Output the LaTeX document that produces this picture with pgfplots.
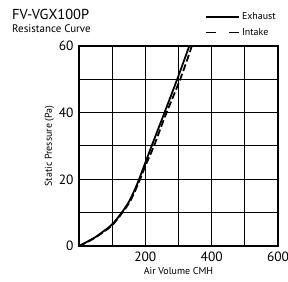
\documentclass[border=0pt]{standalone}
\usepackage{pgfplots}
\pgfplotsset{compat=1.18}
\usepackage{fontspec}
\setmainfont{PT Sans}
\begin{document}
\begin{tikzpicture}
\path[use as bounding box] (0,0) rectangle (288bp,282bp);
\node[anchor=north west, inner sep=0pt, font=\fontsize{14.5}{16}\selectfont] at (12bp,273bp) {FV-VGX100P};
\node[anchor=north west, inner sep=0pt, font=\fontsize{11}{12}\selectfont] at (12bp,257bp) {Resistance Curve};
\begin{axis}[
  at={(79bp,36bp)}, anchor=south west,
  scale only axis, width=199bp, height=200bp,
  xmin=0, xmax=600, ymin=0, ymax=60,
  xtick={0,100,...,600}, xticklabels={,,200,,400,,600},
  ytick={0,10,...,60}, yticklabels={0,,20,,40,,60},
  major tick length=0pt,
  grid=major,
  grid style={black, line width=1bp},
  axis line style={black, line width=1.1bp},
  /pgf/number format/assume math mode=true,
  tick label style={font=\fontsize{13.5}{14}\selectfont},
  xticklabel style={yshift=-2bp},
  yticklabel style={xshift=-2bp},
  xlabel={Air Volume CMH}, ylabel={Static Pressure (Pa)},
  label style={font=\fontsize{10}{11}\selectfont},
  xlabel style={yshift=1bp},
  ylabel style={yshift=-2bp},
  legend style={at={(1,1)}, anchor=south east, yshift=7bp, draw=none, fill=none,
    font=\fontsize{10}{11}\selectfont, inner sep=0pt, row sep=3bp,
    cells={anchor=west}},
  clip=true,
]
\addplot[black, line width=1.8bp, smooth,
  legend image code/.code={\draw[black, solid, line width=1.6bp] (0,0) -- (33bp,0);}]
  coordinates {(0,0) (25,1.3) (50,2.7) (75,4.5) (100,6.5) (125,9.5) (150,13.2) (175,18.5) (200,25) (219,30) (250,38) (296,50) (327,58.5) (340,62)};
\addlegendentry{Exhaust}
\addplot[black, line width=1.8bp, smooth, dash pattern=on 7bp off 3bp,
  legend image code/.code={\draw[black, line width=1.6bp, dash pattern=on 10bp off 13bp] (0,0) -- (33bp,0);}]
  coordinates {(0,0) (25,1.2) (50,2.6) (75,4.3) (100,6.2) (130,9.9) (155,13.6) (182,19.5) (200,24) (226,30) (260,39) (305,50) (337,59) (345,62)};
\addlegendentry{Intake}
\end{axis}
\end{tikzpicture}
\end{document}
